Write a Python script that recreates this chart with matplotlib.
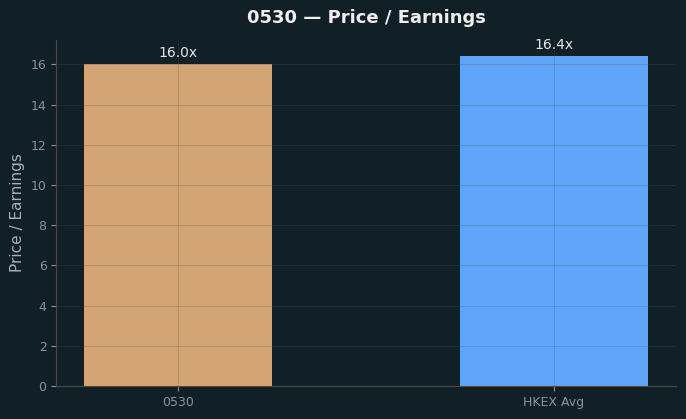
import matplotlib
matplotlib.use("Agg")
import matplotlib.pyplot as plt

labels = ["0530", "HKEX Avg"]
values = [16.0, 16.4]
colors = ["#d4a574", "#60a5fa"]

bg = "#111f26"
fig, ax = plt.subplots(figsize=(6.86, 4.19), dpi=100)
fig.patch.set_facecolor(bg)
ax.set_facecolor(bg)

bars = ax.bar(labels, values, color=colors, width=0.5)
for b, v in zip(bars, values):
    ax.text(b.get_x() + b.get_width() / 2, v + 0.2, f"{v:.1f}x",
            ha="center", va="bottom", color="#e6e6e6", fontsize=10)

ax.set_title("0530 — Price / Earnings", color="#eeeeee", fontsize=13,
             fontweight="bold", pad=12)
ax.set_ylabel("Price / Earnings", color="#a8b0b8", fontsize=11)
ax.tick_params(colors="#8a949c", labelsize=9)
ax.grid(True, color="#4a5560", alpha=0.3, linewidth=0.6)
for s in ["top", "right"]:
    ax.spines[s].set_visible(False)
for s in ["left", "bottom"]:
    ax.spines[s].set_color("#4a4a4a")

plt.subplots_adjust(left=0.082, right=0.985, top=0.905, bottom=0.079)
plt.savefig("out.png", facecolor=bg)
